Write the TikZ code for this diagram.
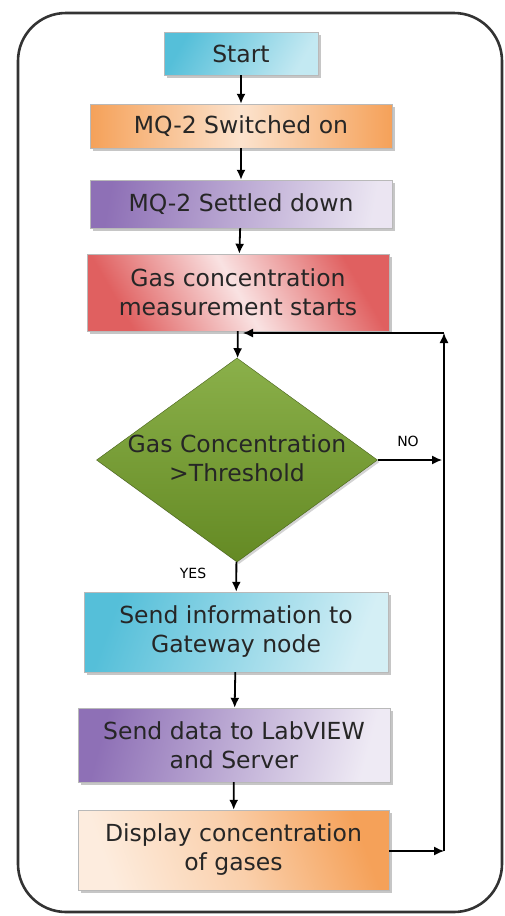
\documentclass[tikz,border=0pt]{standalone}
\usepackage{fontspec}
\setmainfont{DejaVu Sans}
\usetikzlibrary{shapes.geometric,arrows.meta,shadows}
\definecolor{cyanbox}{HTML}{55BFD9}
\definecolor{orangebox}{HTML}{F5A159}
\definecolor{purplebox}{HTML}{8E70B6}
\definecolor{redbox}{HTML}{E06060}
\definecolor{greenbox}{HTML}{76A22A}
\definecolor{inktext}{HTML}{262626}
\tikzset{
  boxtext/.style={align=center, inner sep=0pt, text=inktext,
    font=\fontsize{23.5}{29}\selectfont},
  flowbox/.style={boxtext, rectangle, draw=gray!55,
    drop shadow={shadow xshift=2.5pt, shadow yshift=-2.5pt, opacity=0.45}},
  decision/.style={diamond, draw=greenbox!60!black, inner sep=0pt,
    minimum width=281pt, minimum height=204pt,
    top color=greenbox!85!white, bottom color=greenbox!85!black,
    drop shadow={shadow xshift=2pt, shadow yshift=-2pt, opacity=0.35}},
  tag/.style={font=\fontsize{14}{16}\selectfont, text=black, inner sep=1pt}
}
\begin{document}
\begin{tikzpicture}[x=1pt,y=-1pt]
      \useasboundingbox (0,0) rectangle (505,916);
      \draw[draw=gray!40!black, line width=2.6pt, rounded corners=48pt]
        (18,13) rectangle (502,912);
      \draw
        (241,53.5) node[flowbox, minimum width=154pt, minimum height=43pt,
          left color=cyanbox, right color=cyanbox!35!white, shading angle=60] (start){Start}
        (241,126) node[flowbox, minimum width=302pt, minimum height=44pt,
          left color=orangebox, right color=orangebox, middle color=orangebox!30!white] (on){MQ-2 Switched on}
        (241,204) node[flowbox, minimum width=302pt, minimum height=48pt,
          left color=purplebox, right color=purplebox!18!white, shading angle=80] (settle){MQ-2 Settled down}
        (238,292.5) node[flowbox, minimum width=302pt, minimum height=77pt,
          left color=redbox, right color=redbox, middle color=redbox!18!white, shading angle=120] (measure){Gas concentration\\measurement starts}
        (237,460) node[decision] (check){}
        (237,458) node[boxtext] (checktext){Gas Concentration\\>Threshold}
        (236,632) node[flowbox, minimum width=304pt, minimum height=80pt,
          left color=cyanbox, right color=cyanbox!25!white, shading angle=70] (gateway){Send information to\\Gateway node}
        (234,745) node[flowbox, minimum width=312pt, minimum height=74pt,
          left color=purplebox, right color=purplebox!15!white, shading angle=75] (labview){Send data to LabVIEW\\and Server}
        (233.5,850) node[flowbox, minimum width=311pt, minimum height=80pt,
          left color=orangebox!20!white, right color=orangebox, middle color=orangebox!50!white, shading angle=110] (display){Display concentration\\of gases}
        (408,441) node[tag] (no){NO}
        (193,573) node[tag] (yes){YES};
      \coordinate (noend) at (442,460);
      \coordinate (loopbottom) at (444,851);
      \coordinate (looptop) at (444,333);
      \coordinate (loopend) at (243,333);
      \begin{scope}[-{Latex[length=10pt,width=9pt]}, line width=1.8pt]
        \draw (start) to (on);
        \draw (on) to (settle);
        \draw (settle) to (measure);
        \draw (measure) to (check);
        \draw (check) to (gateway);
        \draw (gateway) to (labview);
        \draw (labview) to (display);
      \end{scope}
      \begin{scope}[-{Latex[length=10pt,width=9pt]}, line width=1.3pt]
        \draw (check.east) to (noend);
        \draw (display.east |- loopbottom) to (loopbottom);
        \draw (loopbottom) to (looptop);
        \draw (looptop) to (loopend);
      \end{scope}
    \end{tikzpicture}
\end{document}
